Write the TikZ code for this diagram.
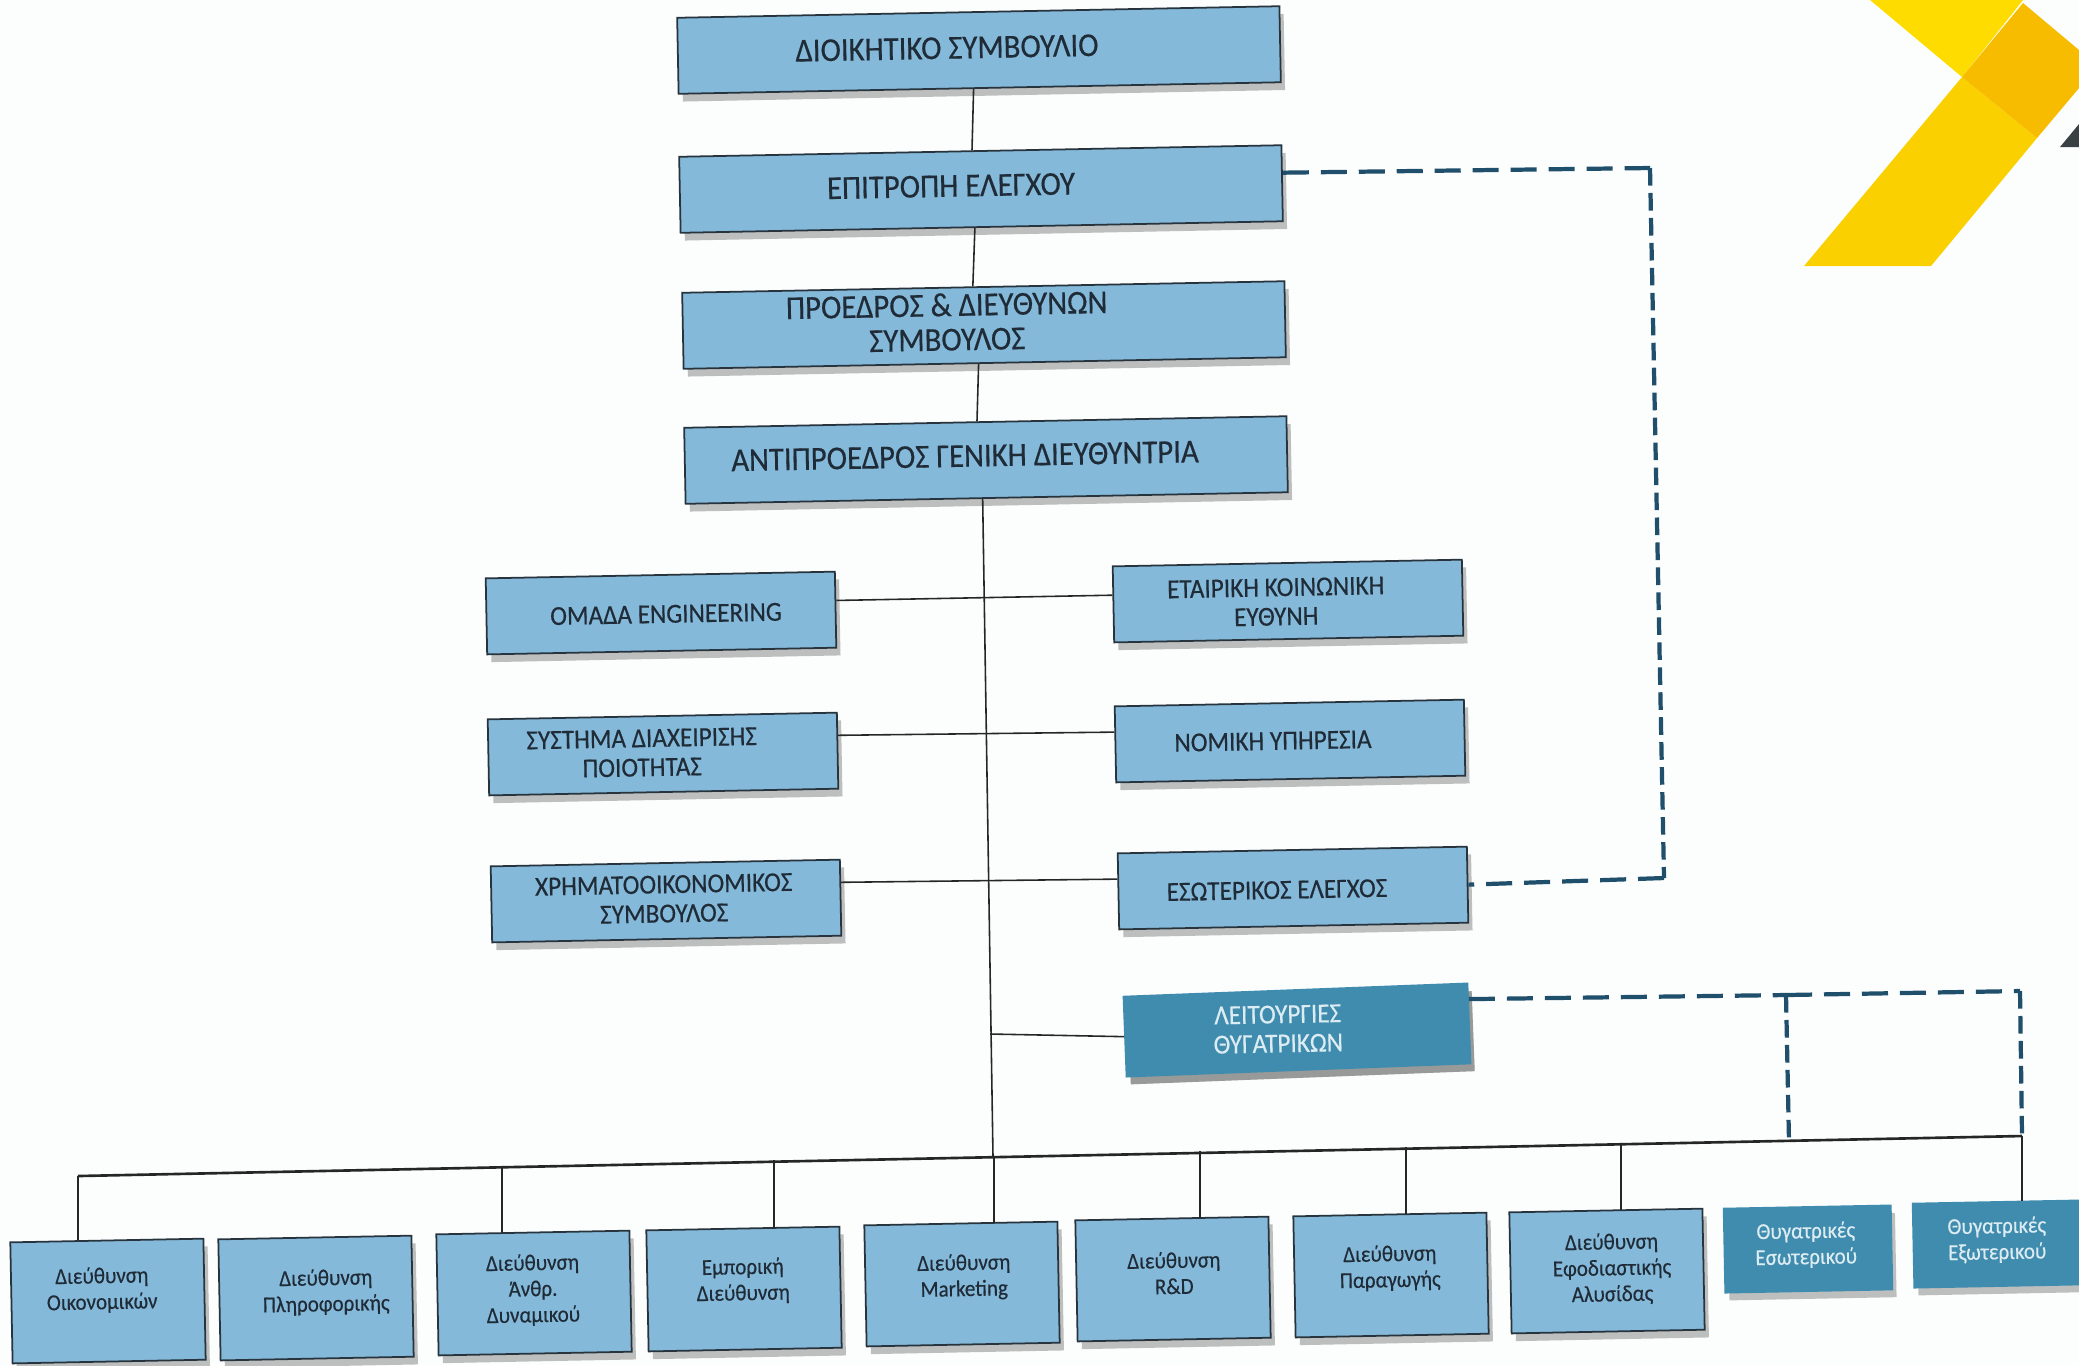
\documentclass[tikz,border=0pt]{standalone}
\usepackage{fontspec}
\setmainfont[FakeStretch=0.92,FakeBold=0.35]{Carlito}
\usetikzlibrary{shadows}

\definecolor{paper}{HTML}{FCFEFE}
\definecolor{boxblue}{HTML}{85B9DA}
\definecolor{boxteal}{HTML}{3F8CAE}
\definecolor{boxedge}{HTML}{27343D}
\definecolor{inkdark}{HTML}{1F2B36}
\definecolor{inklight}{HTML}{DCECF2}
\definecolor{dashblue}{HTML}{1F4F6B}
\definecolor{logoyellow}{HTML}{FFDC00}
\definecolor{logogold}{HTML}{FAD000}
\definecolor{logoorange}{HTML}{F7BB00}
\definecolor{logodark}{HTML}{3A4145}

\tikzset{
    orgbox/.style={rectangle,fill=boxblue,draw=boxedge,line width=0.5pt,rotate=1.1,
        drop shadow={shadow xshift=1.2pt,shadow yshift=-2.2pt,opacity=0.42,fill=black!60}},
    headbox/.style={orgbox,minimum width=6.02cm,minimum height=0.76cm},
    midbox/.style={orgbox,minimum width=3.49cm,minimum height=0.76cm},
    deptbox/.style={orgbox,minimum width=1.93cm,minimum height=1.21cm},
    tealbox/.style={orgbox,fill=boxteal,draw=boxteal},
    subsbox/.style={tealbox,minimum width=1.67cm,minimum height=0.84cm},
    headtext/.style={rotate=1.1,align=center,text=inkdark,font=\fontsize{9.5}{9.8}\selectfont},
    midtext/.style={rotate=1.1,align=center,text=inkdark,font=\fontsize{7.8}{8.3}\selectfont},
    depttext/.style={rotate=1.1,align=center,text=inkdark,font=\fontsize{6.5}{7.4}\selectfont},
    subsnote/.style={depttext,text=inklight},
    solidlink/.style={draw=black!85,line width=0.45pt},
    buslink/.style={draw=black!85,line width=0.75pt},
    hdashlink/.style={draw=dashblue,line width=1.2pt,dash pattern=on 7.4pt off 3.4pt},
    vdashlink/.style={draw=dashblue,line width=1.2pt,dash pattern=on 5pt off 2.1pt}
}

\begin{document}
\begin{tikzpicture}[x=0.01cm,y=-0.01cm]
    \useasboundingbox[fill=paper] (0,0) rectangle (2079,1365);

    % Logo corner
    \fill[logoyellow] (1870,0) -- (2023,0) -- (1962,77) -- cycle;
    \fill[logogold] (1962,77) -- (2037,138) -- (1931,266) -- (1804,266) -- cycle;
    \fill[logoorange] (2023,3) -- (2079,50) -- (2079,88) -- (2037,138) -- (1962,77) -- cycle;
    \fill[logodark] (2079,124) -- (2060,147) -- (2079,147) -- cycle;

    % Top column
    \node[headbox] (board) at (979,50) {};
    \node[headtext] (boardtext) at (947,48) {ΔΙΟΙΚΗΤΙΚΟ ΣΥΜΒΟΥΛΙΟ};
    \node[headbox] (audit) at (981,189) {};
    \node[headtext] (audittext) at (951,186) {ΕΠΙΤΡΟΠΗ ΕΛΕΓΧΟΥ};
    \node[headbox] (ceo) at (984,325) {};
    \node[headtext] (ceotext) at (947,322) {ΠΡΟΕΔΡΟΣ \& ΔΙΕΥΘΥΝΩΝ\\ΣΥΜΒΟΥΛΟΣ};
    \node[headbox] (deputy) at (986,460) {};
    \node[headtext] (deputytext) at (965,456) {ΑΝΤΙΠΡΟΕΔΡΟΣ ΓΕΝΙΚΗ ΔΙΕΥΘΥΝΤΡΙΑ};

    % Staff boxes, left side
    \node[midbox] (engineering) at (661,613) {};
    \node[midtext] (engineeringtext) at (666,614) {ΟΜΑΔΑ ENGINEERING};
    \node[midbox] (quality) at (663,754) {};
    \node[midtext] (qualitytext) at (642,753) {ΣΥΣΤΗΜΑ ΔΙΑΧΕΙΡΙΣΗΣ\\ΠΟΙΟΤΗΤΑΣ};
    \node[midbox] (finance) at (666,901) {};
    \node[midtext] (financetext) at (664,899) {ΧΡΗΜΑΤΟΟΙΚΟΝΟΜΙΚΟΣ\\ΣΥΜΒΟΥΛΟΣ};

    % Staff boxes, right side
    \node[midbox] (social) at (1288,601) {};
    \node[midtext] (socialtext) at (1276,602) {ΕΤΑΙΡΙΚΗ ΚΟΙΝΩΝΙΚΗ\\ΕΥΘΥΝΗ};
    \node[midbox] (legal) at (1290,741) {};
    \node[midtext] (legaltext) at (1273,741) {ΝΟΜΙΚΗ ΥΠΗΡΕΣΙΑ};
    \node[midbox] (internal) at (1293,888) {};
    \node[midtext] (internaltext) at (1277,890) {ΕΣΩΤΕΡΙΚΟΣ ΕΛΕΓΧΟΣ};
    \node[midbox,tealbox,minimum width=3.44cm,minimum height=0.80cm] (subsidiaries) at (1297,1030) {};
    \node[midtext,text=inklight] (subsidiariestext) at (1278,1029) {ΛΕΙΤΟΥΡΓΙΕΣ\\ΘΥΓΑΤΡΙΚΩΝ};

    % Departments
    \node[deptbox] (accounts) at (108,1301) {};
    \node[depttext] (accountstext) at (102,1290) {Διεύθυνση\\Οικονομικών};
    \node[deptbox] (computing) at (316,1298) {};
    \node[depttext] (computingtext) at (326,1292) {Διεύθυνση\\Πληροφορικής};
    \node[deptbox] (staff) at (534,1293) {};
    \node[depttext] (stafftext) at (533,1290) {Διεύθυνση\\Άνθρ.\\Δυναμικού};
    \node[deptbox] (sales) at (744,1289) {};
    \node[depttext] (salestext) at (743,1281) {Εμπορική\\Διεύθυνση};
    \node[deptbox] (marketing) at (962,1284) {};
    \node[depttext] (marketingtext) at (964,1277) {Διεύθυνση\\Marketing};
    \node[deptbox] (research) at (1173,1279) {};
    \node[depttext] (researchtext) at (1174,1273) {Διεύθυνση\\R\&D};
    \node[deptbox] (production) at (1391,1275) {};
    \node[depttext] (productiontext) at (1390,1268) {Διεύθυνση\\Παραγωγής};
    \node[deptbox] (supply) at (1607,1271) {};
    \node[depttext] (supplytext) at (1612,1269) {Διεύθυνση\\Εφοδιαστικής\\Αλυσίδας};
    \node[subsbox] (domestic) at (1808,1249) {};
    \node[subsnote] (domestictext) at (1806,1245) {Θυγατρικές\\Εσωτερικού};
    \node[subsbox] (foreign) at (1997,1244) {};
    \node[subsnote] (foreigntext) at (1997,1240) {Θυγατρικές\\Εξωτερικού};

    % Bus points
    \coordinate (busleft) at (78,1176);
    \coordinate (busright) at (2022,1136);
    \coordinate (busmid) at (993,1157);
    \coordinate (spinejoin) at (990,1034);
    \coordinate (dashtop) at (1650,168);
    \coordinate (dashbot) at (1664,878);
    \coordinate (subsjoin) at (1786,995);
    \coordinate (subscorner) at (2020,991);
    \coordinate (subsdrop) at (1789,1142);

    % Top column links
    \draw[solidlink] (board.261) -- (audit.102);
    \draw[solidlink] (audit.260) -- (ceo.105);
    \draw[solidlink] (ceo.261) -- (deputy.102);
    \draw[solidlink] (deputy.264) -- (busmid);

    % Staff links
    \draw[solidlink] (engineering.3) -- (social.177);
    \draw[solidlink] (quality.5) -- (legal.176);
    \draw[solidlink] (finance.5) -- (internal.176);
    \draw[solidlink] (spinejoin) -- (subsidiaries.west);

    % Bus with drops
    \draw[buslink] (busleft) -- (busright);
    \draw[solidlink] (busleft) -- (busleft |- accounts.north);
    \foreach \dropx/\dropto in {502/staff,774/sales,994/marketing,1200/research,1406/production,1621/supply}
        \draw[solidlink] (\dropx,1176-\dropx*0.0206) -- (\dropx,1176-\dropx*0.0206 |- \dropto.north);
    \draw[solidlink] (busright) -- (busright |- foreign.north);

    % Dashed links
    \draw[hdashlink] (audit.2) -- (dashtop);
    \draw[vdashlink] (dashtop) -- (dashbot);
    \draw[hdashlink] (dashbot) -- (internal.east);
    \draw[hdashlink] (subsidiaries.8) -- (subsjoin);
    \draw[hdashlink] (subsjoin) -- (subscorner);
    \draw[vdashlink] (subscorner) -- (busright);
    \draw[vdashlink] (subsjoin) -- (subsdrop);
\end{tikzpicture}
\end{document}
